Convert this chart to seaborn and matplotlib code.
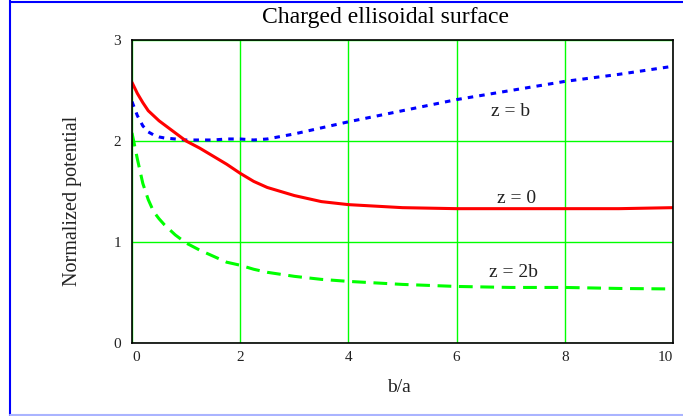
import pandas as pd
import seaborn as sns
import matplotlib.pyplot as plt
from matplotlib.lines import Line2D

# Values
ba = [0, 0.1, 0.2, 0.3, 0.4, 0.5, 0.6, 0.8, 1.0, 1.25, 1.5, 1.75, 2.0, 2.25, 2.5,
      3.0, 3.5, 4.0, 5.0, 6.0, 7.0, 8.0, 9.0, 10.0]
z_b = [2.39, 2.25, 2.15, 2.09, 2.06, 2.04, 2.03, 2.02, 2.01, 2.01, 2.01, 2.02, 2.02, 2.01, 2.02,
       2.07, 2.13, 2.19, 2.30, 2.41, 2.50, 2.59, 2.66, 2.74]
z_0 = [2.58, 2.47, 2.38, 2.30, 2.25, 2.20, 2.16, 2.08, 2.00, 1.93, 1.85, 1.77, 1.68, 1.60, 1.54,
       1.46, 1.40, 1.37, 1.34, 1.33, 1.33, 1.33, 1.33, 1.34]
z_2b = [2.08, 1.82, 1.58, 1.42, 1.30, 1.23, 1.17, 1.07, 0.99, 0.92, 0.86, 0.80, 0.77, 0.73, 0.70,
        0.66, 0.63, 0.61, 0.58, 0.56, 0.55, 0.55, 0.54, 0.535]

labels = ['z = b', 'z = 0', 'z = 2b']
label_pos = [(7.0, 2.29), (7.1, 1.43), (7.06, 0.70)]
colors = ['#0000ff', '#ff0000', '#00ff00']
styles = [(0, (1.8, 2.0)), '-', (0, (4.5, 2.5))]

df = pd.DataFrame({'ba': ba * 3,
                   'pot': z_b + z_0 + z_2b,
                   'curve': [labels[0]] * len(ba) + [labels[1]] * len(ba) + [labels[2]] * len(ba)})

sns.set_style('white')
plt.rcParams['font.family'] = ['Liberation Serif', 'DejaVu Serif']

fig = plt.figure(figsize=(6.83, 4.16), dpi=100)
ax = fig.add_axes([132 / 683, 73 / 416, 541 / 683, 303 / 416])

for name, col, ls in zip(labels, colors, styles):
    sns.lineplot(data=df[df['curve'] == name], x='ba', y='pot', color=col,
                 linestyle=ls, linewidth=2.2, ax=ax, legend=False)

ax.set_xlim(0, 10)
ax.set_ylim(0, 3)
ax.set_xticks([0, 2, 4, 6, 8, 10])
ax.set_yticks([0, 1, 2, 3])
ax.grid(True, color='#00ff00', linewidth=1)
ax.set_axisbelow(True)
for s in ax.spines.values():
    s.set_color('black')
    s.set_linewidth(1.2)
ax.tick_params(length=0, labelsize=11, colors='#222222')
ax.tick_params(axis='x', pad=6)
ax.tick_params(axis='y', pad=8)
xt = ax.get_xticklabels()
xt[0].set_ha('left')
xt[-1].set_ha('right')
ax.set_xlabel('')
ax.set_ylabel('')

for name, (x, y) in zip(labels, label_pos):
    ax.text(x, y, name, ha='center', va='center', fontsize=14, color='#222222')

fig.text(385 / 683, 1 - 18 / 416, 'Charged ellisoidal surface', fontsize=17,
         ha='center', va='center', color='black')
fig.text(399 / 683, 1 - 387 / 416, 'b/a', fontsize=14, ha='center', va='center', color='#222222')
fig.text(72 / 683, 1 - 201 / 416, 'Normalized potential', fontsize=14.5, rotation=90,
         ha='center', va='center', color='#222222')

# window frame
fig.add_artist(Line2D([10 / 683, 10 / 683], [0, 1], color='#0000ff', linewidth=1.5))
fig.add_artist(Line2D([10 / 683, 1], [1 - 1.5 / 416, 1 - 1.5 / 416], color='#0000ff', linewidth=1.5))
fig.add_artist(Line2D([10 / 683, 1], [1.5 / 416, 1.5 / 416], color='#aab4ff', linewidth=1.5))

fig.savefig('out.png', dpi=100)
